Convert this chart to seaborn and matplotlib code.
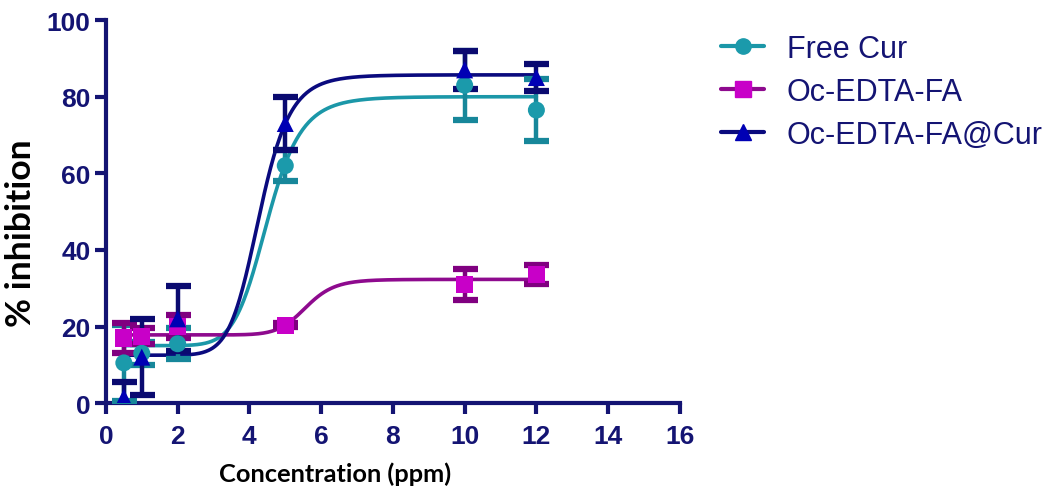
import numpy as np
import pandas as pd
import matplotlib
matplotlib.use("Agg")
import matplotlib.pyplot as plt
from matplotlib.lines import Line2D
import seaborn as sns

# ---- data ----
conc = [0.5, 1, 2, 5, 10, 12]
series_names = ["Free Cur", "Oc-EDTA-FA", "Oc-EDTA-FA@Cur"]
free_cur_mean = [10.5, 13.0, 15.5, 62.0, 83.0, 76.5]
free_cur_err = [10.0, 3.0, 4.0, 4.0, 9.0, 8.0]
ocfa_mean = [17.0, 17.5, 20.0, 20.3, 31.0, 33.5]
ocfa_err = [4.0, 2.0, 3.0, 0.5, 4.0, 2.5]
ocfacur_mean = [1.5, 12.0, 22.0, 73.0, 87.0, 85.0]
ocfacur_err = [4.0, 10.0, 8.5, 7.0, 5.0, 3.5]
# fitted sigmoidal parameters (bottom, top, EC50, Hill slope)
fit_bottom = [15.0, 17.8, 12.5]
fit_top = [80.0, 32.3, 85.7]
fit_ec50 = [4.5, 5.58, 4.28]
fit_hill = [9.5, 14.0, 10.0]
x_ticks = [0, 2, 4, 6, 8, 10, 12, 14, 16]
y_ticks = [0, 20, 40, 60, 80, 100]

line_colors = ["#1b97a8", "#8e0a8e", "#0a0a7e"]
marker_face = ["#1b9aab", "#c800c8", "#0000b4"]
err_colors = ["#17879a", "#800080", "#0a0a70"]
markers = ["o", "s", "^"]
navy = "#141473"

sns.set_theme(style="ticks")
plt.rcParams["font.family"] = ["Liberation Sans", "DejaVu Sans"]

fig = plt.figure(figsize=(10.59, 5.02), dpi=100)
ax = fig.add_axes([0.100, 0.195, 0.542, 0.763])

means = [free_cur_mean, ocfa_mean, ocfacur_mean]
errs = [free_cur_err, ocfa_err, ocfacur_err]

xs = np.linspace(min(conc), max(conc), 400)
rows = []
for i, name in enumerate(series_names):
    ys = fit_bottom[i] + (fit_top[i] - fit_bottom[i]) / (1 + (fit_ec50[i] / xs) ** fit_hill[i])
    rows.append(pd.DataFrame({"x": xs, "y": ys, "series": name}))
curves = pd.concat(rows, ignore_index=True)

sns.lineplot(data=curves, x="x", y="y", hue="series", palette=dict(zip(series_names, line_colors)),
             linewidth=2.6, legend=False, ax=ax, zorder=2)

for i, name in enumerate(series_names):
    ax.errorbar(conc, means[i], yerr=errs[i], fmt="none", ecolor=err_colors[i],
                elinewidth=3.2, capsize=9, capthick=4.5, zorder=3)
    pts = pd.DataFrame({"x": conc, "y": means[i]})
    sns.scatterplot(data=pts, x="x", y="y", marker=markers[i], s=150, color=marker_face[i],
                    edgecolor="none", ax=ax, zorder=4, legend=False)

ax.set_xlim(0, 16)
ax.set_ylim(0, 100)
ax.set_xticks(x_ticks)
ax.set_yticks(y_ticks)
ax.set_xticklabels([str(t) for t in x_ticks])
ax.set_yticklabels([str(t) for t in y_ticks])
sns.despine(ax=ax)
for s in ["left", "bottom"]:
    ax.spines[s].set_color(navy)
    ax.spines[s].set_linewidth(3)
ax.tick_params(axis="both", colors=navy, width=3, length=8, direction="out",
               labelsize=19)
ax.tick_params(axis="x", pad=7)
ax.tick_params(axis="y", pad=3)
for lab in ax.get_xticklabels() + ax.get_yticklabels():
    lab.set_fontweight("bold")
    lab.set_color(navy)

ax.set_xlabel("Concentration (ppm)", fontsize=18.3, fontweight="bold", color="black",
              family=["Lato", "DejaVu Sans"], va="center")
ax.xaxis.set_label_coords(0.40, -0.183)
ax.set_ylabel("% inhibition", fontsize=25.5, fontweight="bold", color="black",
              family=["Lato", "DejaVu Sans"], va="center")
ax.yaxis.set_label_coords(-0.148, 0.446)

handles = [Line2D([0], [0], color=line_colors[i], lw=3, marker=markers[i], markersize=11,
                  markerfacecolor=marker_face[i], markeredgecolor=marker_face[i])
           for i in range(3)]
leg = fig.legend(handles, series_names, loc="upper left", bbox_to_anchor=(0.655, 0.985),
                 frameon=False, fontsize=22, handlelength=1.4, handletextpad=0.75,
                 labelspacing=0.42)
for t in leg.get_texts():
    t.set_color(navy)

fig.savefig("out.png", dpi=100)
